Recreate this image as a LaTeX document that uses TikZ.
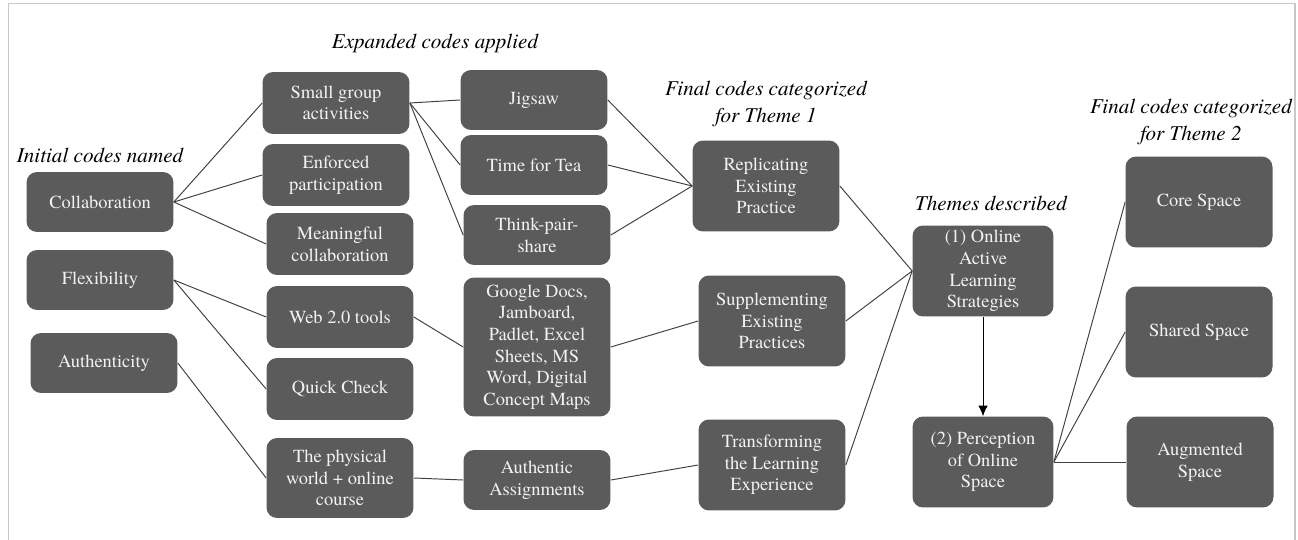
\documentclass[tikz,border=0pt]{standalone}
\usepackage{fontspec}
\setmainfont{TeX Gyre Termes}
\usetikzlibrary{calc,arrows.meta}

\definecolor{boxgray}{HTML}{5B5B5B}
\definecolor{boxtext}{HTML}{F2F2F2}
\definecolor{framegray}{HTML}{C8C8C8}
\definecolor{linegray}{HTML}{404040}

\tikzset{
    code/.style={rounded corners=6pt, fill=boxgray, text=boxtext, align=center,
        minimum width=2.94cm, minimum height=1.2cm, inner sep=1pt,
        font=\fontsize{10.5}{12.3}\selectfont},
    tall/.style={code, minimum height=1.82cm},
    stage/.style={align=center, font=\fontsize{12}{15.5}\selectfont\itshape},
    link/.style={linegray, line width=0.55pt},
}

\begin{document}
\begin{tikzpicture}[x=0.02cm, y=-0.02cm]
    \useasboundingbox (0,0) rectangle (1298,540);
    \draw[framegray, line width=1.1pt] (8.5,541) -- (8.5,3.5) -- (1295,3.5) -- (1295,541);

    \node[stage] (lab1) at (100,155) {Initial codes named};
    \node[stage] (lab2) at (435,43) {Expanded codes applied};
    \node[stage] (lab3) at (766,104) {Final codes categorized\\for Theme 1};
    \node[stage] (lab4) at (991,203) {Themes described};
    \node[stage] (lab5) at (1191,122) {Final codes categorized\\for Theme 2};

    \node[code] (coll) at (100,202) {Collaboration};
    \node[code] (flex) at (100,280) {Flexibility};
    \node[code] (auth) at (104,363) {Authenticity};

    \node[code, minimum height=1.24cm] (small) at (336,103) {Small group\\activities};
    \node[code, minimum height=1.24cm] (enf) at (336,175) {Enforced\\participation};
    \node[code, minimum height=1.24cm] (mean) at (340,244) {Meaningful\\collaboration};
    \node[code, minimum height=1.24cm] (web) at (340,317) {Web 2.0 tools};
    \node[code, minimum height=1.24cm] (quick) at (340,389) {Quick Check};
    \node[code, minimum height=1.6cm] (phys) at (340,478) {The physical\\world + online\\course};

    \node[code] (jig) at (534,100) {Jigsaw};
    \node[code] (tea) at (534,165) {Time for Tea};
    \node[code] (tps) at (537,235) {Think-pair-\\share};
    \node[code, minimum height=2.78cm] (gdocs) at (537,347) {Google Docs,\\Jamboard,\\Padlet, Excel\\Sheets, MS\\Word, Digital\\Concept Maps};
    \node[code] (aa) at (537,480) {Authentic\\Assignments};

    \node[tall] (repl) at (766,186) {Replicating\\Existing\\Practice};
    \node[tall] (supp) at (772,321) {Supplementing\\Existing\\Practices};
    \node[tall] (trans) at (772,465) {Transforming\\the Learning\\Experience};

    \node[tall, minimum width=2.82cm] (th1) at (983,271) {(1) Online\\Active\\Learning\\Strategies};
    \node[tall, minimum width=2.82cm] (th2) at (983,462) {(2) Perception\\of Online\\Space};

    \node[tall] (core) at (1199,202) {Core Space};
    \node[tall] (shared) at (1199,332) {Shared Space};
    \node[tall] (aug) at (1200,462) {Augmented\\Space};

    \foreach \t in {small,enf,mean} \draw[link] (coll.east) -- (\t.west);
    \foreach \t in {web,quick} \draw[link] (flex.east) -- (\t.west);
    \draw[link] (auth.east) -- (phys.west);
    \foreach \t in {jig,tea,tps} \draw[link] (small.east) -- (\t.west);
    \draw[link] (web.east) -- (gdocs.west);
    \draw[link] (phys.east) -- (aa.west);
    \foreach \s in {jig,tea,tps} \draw[link] (\s.east) -- (repl.west);
    \draw[link] (gdocs.east) -- (supp.west);
    \draw[link] (aa.east) -- (trans.west);
    \foreach \s in {repl,supp,trans} \draw[link] (\s.east) -- (th1.west);
    \draw[link, black, -{Latex[length=6pt,width=5.5pt]}] (th1.south) -- (th2.north);
    \foreach \t in {core,shared,aug} \draw[link] (th2.east) -- (\t.west);
\end{tikzpicture}
\end{document}
